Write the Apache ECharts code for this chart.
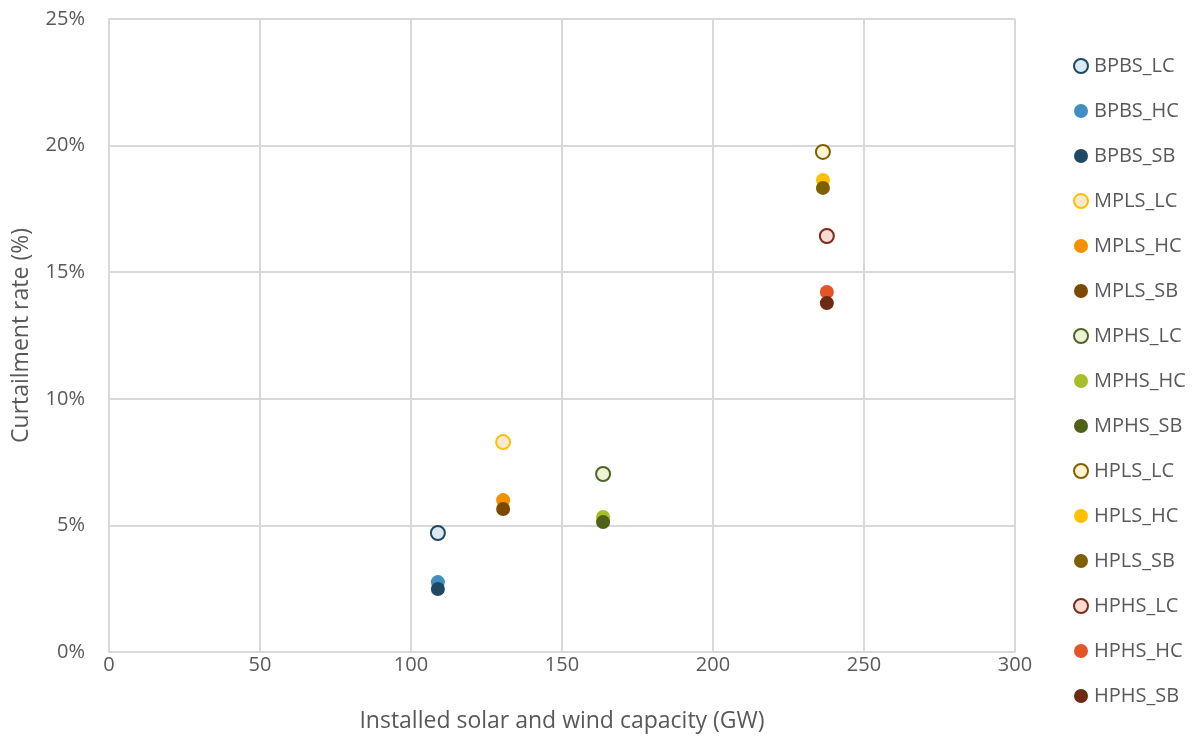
<!DOCTYPE html>
<html><head><meta charset="utf-8">
<script src="https://cdn.jsdelivr.net/npm/echarts@6/dist/echarts.min.js"></script>
<style>html,body{margin:0;padding:0;background:#fff}#c{width:1198px;height:740px}</style>
</head><body><div id="c"></div>
<script>
const seriesNames = ['BPBS_LC','BPBS_HC','BPBS_SB','MPLS_LC','MPLS_HC','MPLS_SB','MPHS_LC','MPHS_HC','MPHS_SB','HPLS_LC','HPLS_HC','HPLS_SB','HPHS_LC','HPHS_HC','HPHS_SB'];
const capacityGW = [108.9,108.9,108.9,130.5,130.5,130.5,163.6,163.6,163.6,236.4,236.4,236.4,237.7,237.7,237.7];
const curtailmentPct = [4.70,2.76,2.49,8.29,6.00,5.65,7.03,5.33,5.13,19.75,18.64,18.33,16.43,14.22,13.78];
const fillColors = ['#dbe9f2','#3f8fc0','#1f4864','#fde9d0','#f59000','#7b4a00','#eef3d6','#a8bf2a','#4f6018','#fff3d0','#ffc000','#7f6000','#fadbd2','#e35427','#6f2a14'];
const borderColors = ['#1f4864','#3f8fc0','#1f4864','#ffc000','#f59000','#7b4a00','#4f6228','#a8bf2a','#4f6018','#7f6000','#ffc000','#7f6000','#7b2a15','#e35427','#6f2a14'];
const yTicks = [0,5,10,15,20,25];

const font = '"Open Sans", sans-serif';
const series = seriesNames.map((n,i)=>({
  name:n, type:'scatter', symbol:'circle', symbolSize:14,
  data:[[capacityGW[i], curtailmentPct[i]]],
  itemStyle:{color:fillColors[i], borderColor:borderColors[i], borderWidth: n.endsWith('_LC')?2:0, opacity:1},
  emphasis:{disabled:true}
}));
const chart = echarts.init(document.getElementById('c'));
chart.setOption({
  animation:false,
  grid:{left:109,right:183,top:19,bottom:88,outerBoundsMode:'none',containLabel:false},
  legend:{orient:'vertical',left:1068,top:51,itemWidth:14,itemHeight:14,itemGap:25,
    icon:'circle',
    textStyle:{fontFamily:font,fontSize:20,color:'#595959',padding:[0,0,0,1]},
    data:seriesNames},
  xAxis:{type:'value',min:0,max:300,interval:50,
    name:'Installed solar and wind capacity (GW)',nameLocation:'middle',nameGap:58,
    nameTextStyle:{fontFamily:font,fontSize:23,color:'#595959'},
    axisLine:{show:true,lineStyle:{color:'#d9d9d9',width:2}},axisTick:{show:false},
    axisLabel:{fontFamily:font,fontSize:20,color:'#595959',margin:3},
    splitLine:{show:true,lineStyle:{color:'#d9d9d9',width:2}}},
  yAxis:{type:'value',min:0,max:25,interval:5,
    name:'Curtailment rate (%)',nameLocation:'middle',nameGap:76,
    nameTextStyle:{fontFamily:font,fontSize:23,color:'#595959'},
    axisLine:{show:true,lineStyle:{color:'#d9d9d9',width:2}},axisTick:{show:false},
    axisLabel:{fontFamily:font,fontSize:20,color:'#595959',margin:24,formatter:v=>yTicks.includes(v)?v+'%':''},
    splitLine:{show:true,lineStyle:{color:'#d9d9d9',width:2}}},
  series:series
});
</script></body></html>
